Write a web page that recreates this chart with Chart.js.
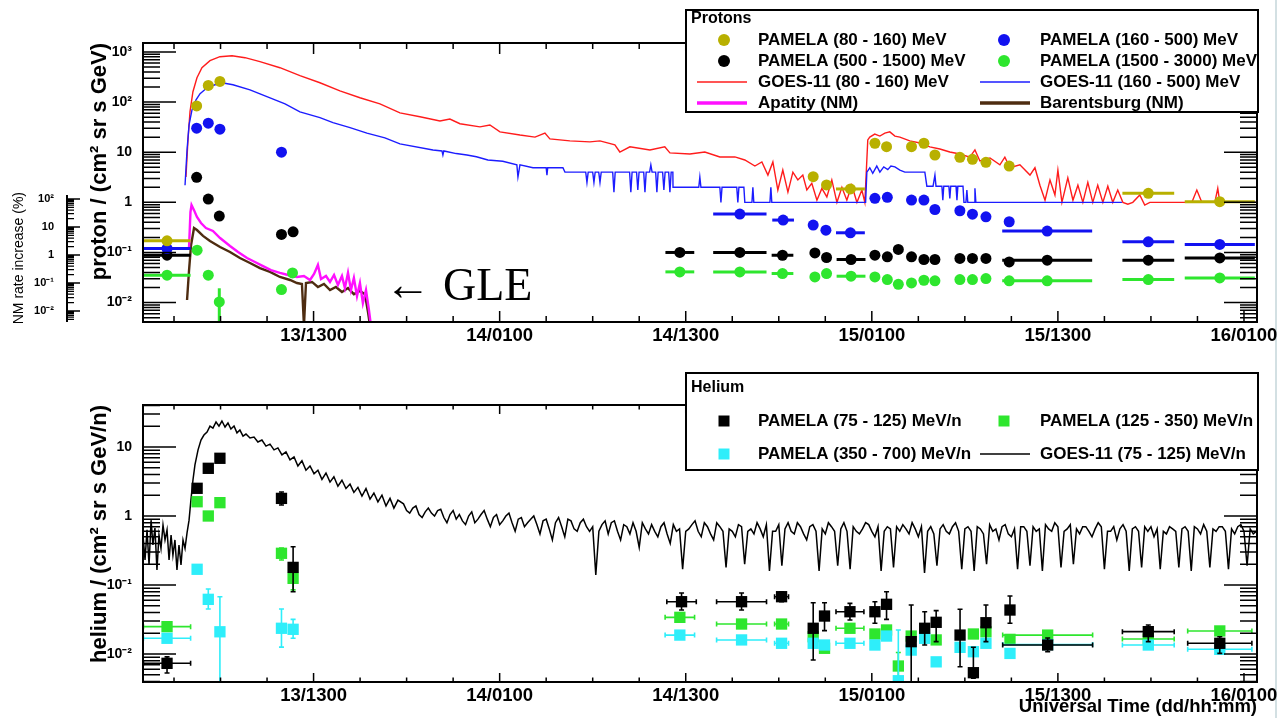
<!DOCTYPE html>
<html>
<head>
<meta charset="utf-8">
<title>PAMELA and GOES-11 — solar particle event of 13 December 2006</title>
<script src="https://cdn.jsdelivr.net/npm/chart.js@4.4.1/dist/chart.umd.min.js"></script>
<style>
  html, body { margin: 0; padding: 0; background: #fff; }
  #page { position: relative; width: 1280px; height: 718px; overflow: hidden; background: #fff; }
  #edge { position: absolute; left: 1275px; top: 0; width: 2px; height: 718px; background: #d3e0e3; }
  canvas { position: absolute; left: 0; }
  #protons { top: 0; }
  #helium { top: 360px; }
</style>
</head>
<body>
<div id="page">
  <div id="edge"></div>
  <canvas id="protons" width="1280" height="360"></canvas>
  <canvas id="helium" width="1280" height="358"></canvas>
</div>
<script>
const FONT = "'Liberation Sans', Arial, Helvetica, sans-serif";
const SERIF = "'Liberation Serif', 'DejaVu Serif', serif";
Chart.defaults.color = '#000';
Chart.defaults.font.family = FONT;

// Time axis: hours counted from 13 Dec 00:00 UT
const timeMin = 2;
const timeMax = 73.84;
const timeLabels = [13, 25, 37, 49, 61, 73];
const protonDecades = [0.01, 0.1, 1, 10, 100, 1000];
const heliumDecades = [0.01, 0.1, 1, 10];
const nmDecades = [0.01, 0.1, 1, 10, 100];

// ---------- Protons: GOES-11 (80 - 160) MeV ----------
const goesP80T = [4.77,4.90,5.03,5.22,5.48,5.80,6.32,6.96,7.74,8.58,9.54,10.83,12.12,13.41,14.70,15.99,17.28,18.57,
  19.86,21.15,21.79,22.44,23.73,24.37,25.02,26.31,27.28,27.92,28.24,29.53,30.82,31.47,32.43,32.75,33.40,34.69,35.65,35.98,
  37.27,38.23,39.20,40.17,40.81,41.46,41.91,42.30,42.62,42.94,43.26,43.59,43.91,44.23,44.55,44.81,45.13,45.46,45.78,46.10,
  46.42,46.75,47.07,47.39,47.71,48.04,48.36,48.55,48.74,48.87,49.19,49.52,49.84,50.16,50.49,50.81,51.45,52.10,52.74,53.39,
  54.03,54.68,55.32,55.65,55.97,56.62,57.26,57.58,57.91,58.55,59.20,59.52,59.84,60.17,60.49,60.81,61.00,61.26,61.64,61.97,
  62.29,62.61,62.93,63.25,63.57,63.90,64.22,64.54,64.86,65.19,65.51,65.83,66.28,66.60,66.93,69.64,69.96,70.28,71.12,71.31,
  71.44,73.84];
const goesP80V = [3.2,17.6,64,161,306,485,670,805,843,769,640,485,336,243,168,122,92,61,
  51,42,46,37,32,35,25.5,22,20,24,18.4,16.8,16.1,16.8,14,10.1,12.8,11.1,12.8,9.7,
  9.2,10.1,8.05,8.05,7.0,5.3,6.4,3.5,6.4,1.76,4.4,1.6,4.0,2.8,3.5,1.76,2.4,1.1,1.9,1.28,
  2.8,1.0,2.0,1.1,2.2,1.0,1.76,1.0,17.6,20,23,21,24,25.5,21,20,16.8,15.3,12.8,11.6,
  10.1,9.2,8.0,11.1,6.7,7.7,5.6,8.0,4.9,5.6,3.5,4.9,2.2,1.1,2.8,1.4,4.4,1.0,3.1,1.1,
  2.2,1.0,2.5,1.0,2.2,1.0,2.1,1.0,1.76,1.0,0.92,1.0,1.4,0.88,1.0,1.0,1.76,1.0,1.0,1.9,
  1.0,1.0];

// ---------- Protons: GOES-11 (160 - 500) MeV ----------
const goesP160T = [4.71,4.84,4.97,5.16,5.42,5.68,6.13,6.64,7.09,7.80,
  8.90,9.99,11.16,12.12,13.41,14.25,15.35,16.44,17.60,18.57,
  20.70,21.28,21.34,21.40,22.20,22.89,23.50,24.24,25.20,26.11,
  26.18,26.31,27.15,28.00,28.05,28.10,29.08,29.21,
  30.55,30.63,30.71,31.00,31.08,31.16,31.39,31.47,31.55,
  32.29,32.37,32.45,33.38,33.46,33.54,33.83,33.91,33.99,
  34.29,34.37,34.45,34.67,34.75,34.83,35.06,35.14,35.22,
  35.51,35.59,35.67,35.90,35.98,36.06,36.17,36.18,
  37.84,37.91,37.98,39.20,39.27,39.34,40.29,40.36,40.43,40.75,40.81,
  41.27,41.33,41.39,42.43,42.49,42.55,
  48.60,48.68,48.87,49.06,49.32,49.52,49.77,50.03,50.23,50.49,50.81,51.13,52.42,52.55,
  52.95,53.00,53.07,53.14,53.52,53.58,53.64,53.97,54.03,54.09,54.43,54.49,54.55,54.88,54.94,
  55.07,55.13,55.19,55.59,55.65,55.71,65.13];
const goesP160V = [2.2,11.1,35,70,111,147,193,222,243,222,
  176,128,92,64,49,39,31,24,19.3,14.7,
  11.1,10.6,8.8,10.6,9.4,8.8,8.1,7.0,6.6,5.6,
  3.2,5.6,4.9,4.9,3.5,4.9,4.9,4.0,
  4.0,2.5,4.0,4.0,2.5,4.0,4.0,2.5,4.0,
  4.0,1.6,4.0,4.0,1.6,4.0,4.0,1.76,4.0,
  4.0,1.6,4.0,4.0,5.6,4.0,4.0,1.6,4.0,
  4.0,1.76,4.0,4.0,1.6,4.0,4.0,2.0,
  2.0,3.2,2.0,2.0,1.0,2.0,2.0,1.0,2.0,2.0,1.0,
  1.0,2.0,1.0,1.0,2.0,1.0,
  1.0,4.0,4.9,3.8,5.3,4.0,5.1,4.5,5.3,5.1,4.4,4.0,4.0,2.1,
  2.1,2.1,3.5,2.1,2.1,1.1,2.1,2.1,1.2,2.1,2.1,1.1,2.1,2.1,1.0,
  1.0,1.76,1.0,1.0,1.9,1.0,1.0];

// ---------- Neutron monitors: rate increase (%) ----------
const apatityT = [4.97,5.06,5.13,5.29,5.48,5.74,6.06,6.51,6.97,7.61,8.13,8.71,9.22,9.74,10.25,10.83,11.35,11.93,12.38,12.77,
  13.03,13.28,13.48,13.80,14.06,14.32,14.57,14.83,15.02,15.22,15.41,15.60,15.80,15.99,16.18,16.38,16.57,16.70];
const apatityV = [1.93,34,61,40,22.8,13.9,9.2,7.2,4.05,2.1,1.28,0.78,0.56,0.40,0.29,0.23,0.193,0.164,0.178,0.128,
  0.21,0.44,0.139,0.178,0.109,0.193,0.085,0.178,0.066,0.23,0.056,0.151,0.034,0.1,0.019,0.056,0.0109,0.003];
const barentsT = [4.84,4.97,5.10,5.29,5.48,5.87,6.32,6.97,7.61,8.25,8.90,9.54,10.19,10.83,11.48,11.93,12.25,12.38,12.51,12.90,
  13.28,13.67,14.06,14.44,14.83,15.22,15.60,15.99,16.31,16.51,16.64];
const barentsV = [0.0247,0.29,2.28,9.2,7.8,4.8,3.16,1.93,1.28,0.78,0.52,0.34,0.25,0.164,0.128,0.1,0.092,0.003,0.1,0.109,
  0.072,0.092,0.056,0.072,0.048,0.066,0.040,0.052,0.040,0.0092,0.003];

// ---------- PAMELA protons (flux, half-width of time bin in hours) ----------
const pamP80T = [3.55,5.46,6.21,6.96,45.22,46.08,47.62,49.20,49.95,51.56,52.36,53.07,54.68,55.49,56.36,57.86,66.83,71.44];
const pamP80V = [0.171,84,215,258,3.25,2.22,1.85,15.1,12.9,12.9,15.1,8.8,7.9,7.2,6.3,5.3,1.51,1.03];
const pamP80Dx = [1.52,0,0,0,0,0,0.93,0,0,0,0,0,0,0,0,0,1.67,2.26];

const pamP160T = [3.55,5.46,6.21,6.96,10.93,40.49,43.28,45.22,46.04,47.62,49.20,50.00,51.56,52.36,53.07,54.68,55.49,56.36,57.86,60.31,66.83,71.44];
const pamP160V = [0.120,30.2,38,28.8,10.0,0.583,0.443,0.352,0.279,0.247,1.20,1.26,1.11,1.11,0.72,0.68,0.58,0.515,0.41,0.267,0.163,0.145];
const pamP160Dx = [1.52,0,0,0,0,1.72,0.7,0,0,0.93,0,0,0,0,0,0,0,0,0,2.9,1.67,2.26];

const pamP500T = [3.55,5.46,6.21,6.92,10.93,11.68,36.62,40.49,43.24,45.33,46.08,47.66,49.20,50.00,50.71,51.56,52.36,53.07,54.68,55.49,56.36,57.86,60.31,66.83,71.44];
const pamP500V = [0.0883,3.16,1.16,0.532,0.229,0.258,0.1,0.1,0.088,0.098,0.0794,0.0724,0.0883,0.0817,0.115,0.0817,0.0724,0.0724,0.0759,0.0759,0.0759,0.0649,0.0702,0.0702,0.078];
const pamP500Dx = [1.52,0,0,0,0,0,0.93,1.72,0.7,0,0,0.93,0,0,0,0,0,0,0,0,0,0,2.9,1.67,2.26];

const pamP1500T = [3.55,5.49,6.21,6.92,10.93,11.64,36.62,40.49,43.24,45.33,46.08,47.66,49.20,50.00,50.71,51.56,52.36,53.07,54.68,55.49,56.36,57.86,60.31,66.83,71.44];
const pamP1500V = [0.0352,0.111,0.0352,0.0103,0.0182,0.0391,0.041,0.041,0.038,0.0325,0.038,0.0336,0.0325,0.0288,0.0232,0.0247,0.0279,0.0272,0.0288,0.0288,0.0302,0.0272,0.0272,0.0288,0.031];
const pamP1500Dx = [1.52,0,0,0,0,0,0.93,1.72,0.7,0,0,0.93,0,0,0,0,0,0,0,0,0,0,2.9,1.67,2.26];
const pamP1500Lo = [null,null,null,0.002,null,null,null,null,null,null,null,null,null,null,null,null,null,null,null,null,null,null,null,null,null];
const pamP1500Hi = [null,null,null,0.0193,null,null,null,null,null,null,null,null,null,null,null,null,null,null,null,null,null,null,null,null,null];

// ---------- Helium: GOES-11 (75 - 125) MeV/n ----------
const goesHeT = [2.00,2.13,2.26,2.39,2.52,2.64,2.77,2.90,3.03,3.16,3.29,3.42,3.55,3.68,3.81,3.93,4.06,4.19,4.32,4.45,4.58,4.71,4.84,4.97,
  5.09,5.22,5.35,5.55,5.74,5.93,6.13,6.32,6.51,6.71,6.90,7.09,7.29,7.48,7.67,7.87,8.06,8.25,8.45,8.64,
  8.90,9.16,9.41,9.67,9.93,10.19,10.45,10.70,10.96,11.22,11.48,11.74,11.99,12.25,12.51,12.77,13.03,13.28,13.54,13.80,
  14.06,14.31,14.57,14.83,15.09,15.35,15.60,15.86,16.12,16.38,16.64,16.89,17.15,17.41,17.67,17.93,18.18,18.44,
  18.8,19.0,19.2,19.4,19.6,19.8,20.0,20.2,20.4,20.6,20.8,21.0,21.2,21.4,21.6,21.8,22.0,22.2,22.4,22.6,
  22.8,23.0,23.2,23.4,23.6,23.8,24.0,24.2,24.4,24.6,24.8,25.0,25.2,25.4,25.6,25.8,26.0,26.2,26.4,26.6,
  26.8,27.0,27.2,27.4,27.6,27.8,28.0,28.2,28.4,28.6,28.8,29.0,29.2,29.4,29.6,29.8,30.0,30.2,30.4,30.6,
  30.8,31.0,31.2,31.4,31.6,31.8,32.0,32.2,32.4,32.6,32.8,33.0,33.2,33.4,33.6,33.8,34.0,34.2,34.4,34.6,
  34.8,35.0,35.2,35.4,35.6,35.8,36.0,36.2,36.4,36.6,36.8,37.0,37.2,37.4,37.6,37.8,38.0,38.2,38.4,38.6,
  38.8,39.0,39.2,39.4,39.6,39.8,40.0,40.2,40.4,40.6,40.8,41.0,41.2,41.4,41.6,41.8,42.0,42.2,42.4,42.6,
  42.8,43.0,43.2,43.4,43.6,43.8,44.0,44.2,44.4,44.6,44.8,45.0,45.2,45.4,45.6,45.8,46.0,46.2,46.4,46.6,
  46.8,47.0,47.2,47.4,47.6,47.8,48.0,48.2,48.4,48.6,48.8,49.0,49.2,49.4,49.6,49.8,50.0,50.2,50.4,50.6,
  50.8,51.0,51.2,51.4,51.6,51.8,52.0,52.2,52.4,52.6,52.8,53.0,53.2,53.4,53.6,53.8,54.0,54.2,54.4,54.6,
  54.8,55.0,55.2,55.4,55.6,55.8,56.0,56.2,56.4,56.6,56.8,57.0,57.2,57.4,57.6,57.8,58.0,58.2,58.4,58.6,
  58.8,59.0,59.2,59.4,59.6,59.8,60.0,60.2,60.4,60.6,60.8,61.0,61.2,61.4,61.6,61.8,62.0,62.2,62.4,62.6,
  62.8,63.0,63.2,63.4,63.6,63.8,64.0,64.2,64.4,64.6,64.8,65.0,65.2,65.4,65.6,65.8,66.0,66.2,66.4,66.6,
  66.8,67.0,67.2,67.4,67.6,67.8,68.0,68.2,68.4,68.6,68.8,69.0,69.2,69.4,69.6,69.8,70.0,70.2,70.4,70.6,
  70.8,71.0,71.2,71.4,71.6,71.8,72.0,72.2,72.4,72.6,72.8,73.0,73.2,73.4,73.6,73.8];
const goesHeV = [0.53,0.23,0.63,0.195,0.87,0.38,0.67,0.165,0.53,0.34,0.74,0.45,0.63,0.23,0.53,0.27,0.45,0.165,0.38,0.195,0.45,0.34,0.57,0.87,
  1.7,3.3,5.5,9.1,12.6,14.9,16.5,20.1,18.8,23,20.1,23.8,19.5,22.3,18.2,20.1,16,17.6,14.4,15.4,
  13.5,13.9,11.8,12.6,10.3,11,9.1,9.7,7.7,8.5,6.5,7.2,5.3,6.3,4.6,5.3,4.1,4.6,3.4,4.2,
  3.1,3.7,2.7,3.3,2.5,2.9,2.2,2.6,1.95,2.5,1.76,2.15,1.6,2.0,1.4,1.8,1.3,1.7,
  1.5,1.2,1.1,1.3,1.4,1.05,0.95,1.15,1.3,1.1,1.0,1.2,1.25,0.95,0.8,1.05,1.2,0.9,1.05,0.85,
  0.75,1.0,1.15,0.8,0.9,1.05,1.2,0.9,0.7,0.95,1.05,0.75,0.85,1.0,1.1,0.8,0.6,0.9,0.95,0.7,
  0.8,0.9,1.0,0.75,0.55,0.85,0.9,0.65,0.45,0.8,0.95,0.7,0.5,0.9,0.85,0.65,0.6,0.8,0.9,0.7,
  0.6,0.7,0.14,0.6,0.75,0.85,0.55,0.8,0.85,0.6,0.45,0.75,0.7,0.55,0.8,0.6,0.35,0.8,0.65,0.55,
  0.75,0.6,0.5,0.7,0.8,0.55,0.4,0.75,0.6,0.65,0.17,0.6,0.65,0.75,0.85,0.6,0.5,0.8,0.7,0.55,
  0.45,0.8,0.7,0.6,0.18,0.65,0.6,0.5,0.75,0.7,0.2,0.6,0.65,0.55,0.8,0.65,0.5,0.75,0.16,0.6,
  0.6,0.75,0.19,0.65,0.8,0.6,0.55,0.8,0.7,0.55,0.45,0.7,0.75,0.6,0.16,0.65,0.55,0.8,0.7,0.6,
  0.19,0.65,0.8,0.6,0.17,0.7,0.6,0.55,0.65,0.8,0.75,0.6,0.5,0.7,0.16,0.6,0.7,0.65,0.18,0.7,
  0.6,0.75,0.65,0.55,0.8,0.65,0.5,0.7,0.15,0.6,0.7,0.55,0.19,0.65,0.75,0.6,0.55,0.7,0.8,0.6,
  0.17,0.65,0.7,0.6,0.16,0.7,0.65,0.55,0.2,0.75,0.6,0.65,0.45,0.7,0.75,0.55,0.5,0.65,0.17,0.7,
  0.7,0.6,0.19,0.7,0.6,0.65,0.16,0.75,0.65,0.6,0.8,0.7,0.18,0.6,0.65,0.75,0.2,0.65,0.55,0.7,
  0.7,0.6,0.5,0.65,0.8,0.7,0.17,0.6,0.6,0.7,0.45,0.65,0.75,0.6,0.16,0.65,0.7,0.6,0.18,0.7,
  0.6,0.7,0.5,0.65,0.17,0.6,0.55,0.7,0.65,0.6,0.18,0.65,0.7,0.6,0.16,0.7,0.65,0.55,0.75,0.6,
  0.18,0.65,0.6,0.7,0.7,0.6,0.17,0.65,0.55,0.7,0.75,0.6,0.19,0.65,0.55,0.6];

// ---------- PAMELA helium (flux, time half-width, flux error range) ----------
const pamHe75T = [3.55,5.49,6.21,6.96,10.93,11.68,36.73,40.60,43.18,45.22,45.95,47.59,49.20,49.95,51.54,52.41,53.15,54.69,55.55,56.36,57.91,60.34,66.83,71.44];
const pamHe75V = [0.00733,2.52,4.91,6.86,1.80,0.18,0.0573,0.0573,0.0677,0.0236,0.0355,0.041,0.041,0.0525,0.0151,0.0236,0.0288,0.0188,0.00536,0.0284,0.0434,0.0135,0.0211,0.0143];
const pamHe75Dx = [1.52,0,0,0,0,0,0.95,1.61,0.45,0,0,0.9,0,0,0,0,0,0,0,0,0,2.9,1.67,2.07];
const pamHe75Lo = [0.0053,null,null,null,1.44,0.08,0.0434,0.0434,0.0573,0.0082,0.0218,0.0311,0.0279,0.0318,0.003,0.0135,0.0151,0.00655,0.00445,0.0151,0.0279,0.0108,0.0151,0.0102];
const pamHe75Hi = [0.0091,null,null,null,2.23,0.359,0.0766,0.0766,0.08,0.0554,0.0554,0.0542,0.0573,0.08,0.0513,0.041,0.0425,0.0445,0.0125,0.0513,0.0693,0.0171,0.0263,0.0178];

const pamHe125T = [3.55,5.49,6.21,6.96,10.93,11.68,36.62,40.60,43.18,45.22,45.95,47.59,49.20,49.95,50.71,51.54,53.15,55.55,56.36,57.91,60.34,66.83,71.44];
const pamHe125V = [0.0249,1.61,1.0,1.56,0.288,0.125,0.034,0.0272,0.0272,0.0178,0.0121,0.0236,0.0195,0.0223,0.0067,0.0182,0.016,0.0195,0.021,0.0163,0.0188,0.0165,0.0216];
const pamHe125Dx = [1.52,0,0,0,0,0,0.95,1.61,0.45,0,0,0.9,0,0,0,0,0,0,0,0,2.9,1.67,2.07];
const pamHe125Lo = [null,null,null,null,0.23,0.085,null,null,null,null,null,null,null,null,0.0045,null,null,null,null,null,null,null,null];
const pamHe125Hi = [null,null,null,null,0.343,0.165,null,null,null,null,null,null,null,null,0.0105,null,null,null,null,null,null,null,null];

const pamHe350T = [3.55,5.49,6.21,6.96,10.93,11.68,36.62,40.60,43.18,45.22,45.95,47.59,49.20,49.95,50.71,51.54,52.41,53.15,54.69,55.55,56.36,57.91,60.34,66.83,71.44];
const pamHe350V = [0.0169,0.169,0.062,0.021,0.0236,0.0228,0.0188,0.016,0.0143,0.0143,0.0135,0.0143,0.0135,0.0182,0.0041,0.0114,0.0169,0.0077,0.0125,0.0108,0.0143,0.0102,0.0137,0.0135,0.0117];
const pamHe350Dx = [1.52,0,0,0,0,0,0.95,1.61,0.45,0,0,0.9,0,0,0,0,0,0,0,0,0,0,2.9,1.67,2.07];
const pamHe350Lo = [null,null,0.0449,0.002,0.0126,0.0169,null,null,null,null,null,null,null,null,0.002,null,null,null,null,null,null,null,null,null,null];
const pamHe350Hi = [null,null,0.0875,0.0677,0.0449,0.0318,null,null,null,null,null,null,null,null,0.0223,null,null,null,null,null,null,null,null,null,null];

const C = {
  olive: '#b8b000', blue: '#1212f0', black: '#000000', green: '#2ee62e',
  red: '#ff1c1c', goesBlue: '#1c1cff', magenta: '#ff10ff', brown: '#4e2c10', cyan: '#2eeefa'
};

const pts = (t, v) => t.map((x, i) => ({ x, y: v[i] }));
const SUP = { '-': '\u207B', '0': '\u2070', '1': '\u00B9', '2': '\u00B2', '3': '\u00B3' };
function expLabel(v) {
  const e = Math.round(Math.log10(v));
  if (e === 0) return '1';
  if (e === 1) return '10';
  return '10' + String(e).split('').map(c => SUP[c]).join('');
}
const timeLabel = h => `${13 + Math.floor(h / 24)}/${String(h % 24).padStart(2, '0')}00`;

// ---------- error bars, drawn just before each dataset ----------
function drawErrorBars(chart, index) {
  const ds = chart.data.datasets[index];
  if (!ds.errX && !ds.errLo) return;
  const meta = chart.getDatasetMeta(index);
  const xs = chart.scales[meta.xAxisID], ys = chart.scales[meta.yAxisID];
  const a = chart.chartArea, ctx = chart.ctx;
  const cap = ds.errCap || 0;
  ctx.save();
  ctx.beginPath();
  ctx.rect(a.left, a.top, a.right - a.left, a.bottom - a.top);
  ctx.clip();
  ctx.strokeStyle = ds.borderColor;
  ctx.lineWidth = ds.errWidth || 1.5;
  ds.data.forEach((p, i) => {
    const px = xs.getPixelForValue(p.x), py = ys.getPixelForValue(p.y);
    ctx.beginPath();
    const dx = ds.errX ? ds.errX[i] : 0;
    if (dx) {
      const x0 = xs.getPixelForValue(p.x - dx), x1 = xs.getPixelForValue(p.x + dx);
      ctx.moveTo(x0, py); ctx.lineTo(x1, py);
      if (cap) {
        ctx.moveTo(x0, py - cap); ctx.lineTo(x0, py + cap);
        ctx.moveTo(x1, py - cap); ctx.lineTo(x1, py + cap);
      }
    }
    const lo = ds.errLo ? ds.errLo[i] : null, hi = ds.errHi ? ds.errHi[i] : null;
    if (lo != null && hi != null) {
      const y0 = ys.getPixelForValue(lo), y1 = ys.getPixelForValue(hi);
      ctx.moveTo(px, y0); ctx.lineTo(px, y1);
      if (cap) {
        ctx.moveTo(px - cap, y0); ctx.lineTo(px + cap, y0);
        ctx.moveTo(px - cap, y1); ctx.lineTo(px + cap, y1);
      }
    }
    ctx.stroke();
  });
  ctx.restore();
}

// ---------- secondary axis for the neutron monitors ----------
function drawNmAxis(chart, cfg) {
  const ctx = chart.ctx, s = chart.scales.yNM, a = chart.chartArea;
  ctx.strokeStyle = '#000';
  ctx.lineWidth = 2;
  ctx.beginPath();
  ctx.moveTo(cfg.x, cfg.top); ctx.lineTo(cfg.x, a.bottom);
  ctx.stroke();
  ctx.lineWidth = 1.3;
  ctx.beginPath();
  for (let d = -3; d <= 2; d++) for (let k = 1; k <= 9; k++) {
    const py = s.getPixelForValue(k * Math.pow(10, d));
    if (py < cfg.top - 0.5 || py > a.bottom) continue;
    const len = k === 1 ? 13 : 7;
    ctx.moveTo(cfg.x, py); ctx.lineTo(cfg.x + len, py);
  }
  ctx.stroke();
  ctx.fillStyle = '#000';
  ctx.font = `bold 11px ${FONT}`;
  ctx.textAlign = 'right';
  ctx.textBaseline = 'middle';
  nmDecades.forEach(v => ctx.fillText(expLabel(v), cfg.labelX, s.getPixelForValue(v)));
  ctx.save();
  ctx.translate(cfg.titleX, cfg.titleTop);
  ctx.rotate(-Math.PI / 2);
  ctx.font = `14px ${FONT}`;
  ctx.textAlign = 'right';
  ctx.fillText(cfg.title, 0, 0);
  ctx.restore();
}

// ---------- boxed legend in the upper right corner ----------
function drawLegend(chart, L) {
  const ctx = chart.ctx;
  ctx.fillStyle = '#fff';
  ctx.fillRect(L.x0, L.y0, L.x1 - L.x0, L.y1 - L.y0);
  ctx.strokeStyle = '#000';
  ctx.lineWidth = 2;
  ctx.strokeRect(L.x0, L.y0, L.x1 - L.x0, L.y1 - L.y0);
  ctx.fillStyle = '#000';
  ctx.textAlign = 'left';
  ctx.textBaseline = 'middle';
  ctx.font = `bold ${L.titleSize}px ${FONT}`;
  ctx.fillText(L.title, L.titleX, L.titleY);
  ctx.font = `bold ${L.textSize}px ${FONT}`;
  chart.data.datasets.forEach(ds => {
    if (!ds.legendSlot) return;
    const col = L.cols[ds.legendSlot[0]], cy = L.rows[ds.legendSlot[1]];
    if (ds.showLine) {
      ctx.strokeStyle = ds.borderColor;
      ctx.lineWidth = ds.legendWidth || ds.borderWidth;
      ctx.beginPath();
      ctx.moveTo(col.line0, cy); ctx.lineTo(col.line1, cy);
      ctx.stroke();
    } else {
      ctx.fillStyle = ds.backgroundColor;
      ctx.beginPath();
      if (ds.pointStyle === 'rect') ctx.rect(col.marker - 5.5, cy - 5.5, 11, 11);
      else ctx.arc(col.marker, cy, 6, 0, Math.PI * 2);
      ctx.fill();
    }
    ctx.fillStyle = '#000';
    ctx.fillText(ds.label, col.text, cy);
  });
}

function drawNote(ctx, n) {
  ctx.fillStyle = '#000';
  ctx.textAlign = 'left';
  ctx.textBaseline = 'alphabetic';
  ctx.font = `${n.size}px ${SERIF}`;
  ctx.fillText('\u2190', n.arrowX, n.baseline);
  ctx.fillText(n.text, n.textX, n.baseline);
}

// ROOT-style frame: ticks inside on all four sides, then overlays
function makeFrame(cfg) {
  return {
    id: 'rootFrame',
    beforeDatasetDraw(chart, args) { drawErrorBars(chart, args.index); },
    afterDraw(chart) {
      const ctx = chart.ctx, a = chart.chartArea, xs = chart.scales.x, ys = chart.scales.y;
      ctx.save();
      ctx.strokeStyle = '#000';
      ctx.lineWidth = 1.5;
      ctx.beginPath();
      const dLo = Math.floor(Math.log10(ys.min)), dHi = Math.ceil(Math.log10(ys.max));
      for (let d = dLo; d <= dHi; d++) for (let k = 1; k <= 9; k++) {
        const v = k * Math.pow(10, d);
        if (v < ys.min || v > ys.max) continue;
        const py = ys.getPixelForValue(v), len = k === 1 ? cfg.yMajor : cfg.yMinor;
        ctx.moveTo(a.left, py); ctx.lineTo(a.left + len, py);
        ctx.moveTo(a.right, py); ctx.lineTo(a.right - len, py);
      }
      for (let h = Math.ceil(xs.min); h <= xs.max; h++) {
        if ((h - 1) % 3 !== 0) continue;
        const px = xs.getPixelForValue(h), len = (h - 1) % 12 === 0 ? cfg.xMajor : cfg.xMinor;
        ctx.moveTo(px, a.bottom); ctx.lineTo(px, a.bottom - len);
        ctx.moveTo(px, a.top); ctx.lineTo(px, a.top + len);
      }
      ctx.stroke();
      ctx.lineWidth = 2;
      ctx.strokeRect(a.left, a.top, a.right - a.left, a.bottom - a.top);
      if (cfg.nmAxis) drawNmAxis(chart, cfg.nmAxis);
      if (cfg.legend) drawLegend(chart, cfg.legend);
      if (cfg.note) drawNote(ctx, cfg.note);
      ctx.restore();
    }
  };
}

function xAxis(height, title) {
  return {
    type: 'linear', position: 'bottom', min: timeMin, max: timeMax,
    grid: { display: false, drawTicks: false }, border: { display: false },
    afterBuildTicks: s => { s.ticks = timeLabels.map(v => ({ value: v })); },
    afterFit: s => { s.height = height; s.paddingLeft = 0; s.paddingRight = 0; },
    ticks: { autoSkip: false, maxRotation: 0, padding: 3, font: { size: 18.5, weight: 'bold' }, callback: v => timeLabel(v) },
    title: { display: !!title, text: title || '', align: 'end', font: { size: 18.5, weight: 'bold' }, padding: { top: 0, bottom: 0 } }
  };
}

function yAxis(min, max, decades, title) {
  return {
    type: 'logarithmic', position: 'left', min, max,
    grid: { display: false, drawTicks: false }, border: { display: false },
    afterBuildTicks: s => { s.ticks = decades.map(v => ({ value: v })); },
    afterFit: s => { s.width = 143; s.paddingTop = 0; s.paddingBottom = 0; },
    ticks: { padding: 11, font: { size: 14, weight: 'bold' }, callback: v => expLabel(v) },
    title: { display: true, text: title, align: 'end', font: { size: 22, weight: 'bold' }, padding: { top: 86.5, bottom: 0 } }
  };
}

const lineSet = (label, t, v, color, width, order, slot, extra) => Object.assign({
  label, data: pts(t, v), showLine: true, borderColor: color, backgroundColor: color,
  borderWidth: width, pointRadius: 0, tension: 0, fill: false, order, legendSlot: slot
}, extra || {});
const pointSet = (label, t, v, color, style, radius, order, slot, extra) => Object.assign({
  label, data: pts(t, v), showLine: false, pointStyle: style, pointRadius: radius,
  backgroundColor: color, borderColor: color, borderWidth: 0, order, legendSlot: slot
}, extra || {});

const legendCols = [
  { marker: 724, line0: 697, line1: 747, text: 758 },
  { marker: 1004, line0: 980, line1: 1030, text: 1040 }
];
const common = { responsive: false, animation: false, events: [], plugins: { legend: { display: false }, tooltip: { enabled: false } } };

// ---------- upper panel: protons ----------
new Chart(document.getElementById('protons'), {
  type: 'scatter',
  data: {
    datasets: [
      lineSet('GOES-11 (80 - 160) MeV', goesP80T, goesP80V, C.red, 1.4, 10, [0, 2]),
      lineSet('GOES-11 (160 - 500) MeV', goesP160T, goesP160V, C.goesBlue, 1.4, 9, [1, 2]),
      lineSet('Barentsburg (NM)', barentsT, barentsV, C.brown, 2.4, 8, [1, 3], { yAxisID: 'yNM', legendWidth: 3.5 }),
      lineSet('Apatity (NM)', apatityT, apatityV, C.magenta, 2.4, 7, [0, 3], { yAxisID: 'yNM', legendWidth: 3.5 }),
      pointSet('PAMELA (1500 - 3000) MeV', pamP1500T, pamP1500V, C.green, 'circle', 5.5, 4, [1, 1],
        { errX: pamP1500Dx, errLo: pamP1500Lo, errHi: pamP1500Hi, errWidth: 3 }),
      pointSet('PAMELA (500 - 1500) MeV', pamP500T, pamP500V, C.black, 'circle', 5.5, 3, [0, 1], { errX: pamP500Dx, errWidth: 3 }),
      pointSet('PAMELA (160 - 500) MeV', pamP160T, pamP160V, C.blue, 'circle', 5.5, 2, [1, 0], { errX: pamP160Dx, errWidth: 3 }),
      pointSet('PAMELA (80 - 160) MeV', pamP80T, pamP80V, C.olive, 'circle', 5.5, 1, [0, 0], { errX: pamP80Dx, errWidth: 3 })
    ]
  },
  options: Object.assign({}, common, {
    layout: { padding: { top: 43, right: 23, left: 0, bottom: 0 } },
    scales: {
      x: xAxis(38, null),
      y: yAxis(0.0041, 1510, protonDecades, 'proton / (cm\u00B2 sr s GeV)'),
      yNM: { type: 'logarithmic', position: 'left', display: false, min: 0.00405, max: 3.72e7 }
    }
  }),
  plugins: [makeFrame({
    yMajor: 33, yMinor: 17, xMajor: 11, xMinor: 6,
    nmAxis: { x: 67, top: 195, labelX: 54, titleX: 19, titleTop: 192, title: 'NM rate increase (%)' },
    legend: { x0: 686, x1: 1258, y0: 10, y1: 112, title: 'Protons', titleX: 691, titleY: 19, titleSize: 16, textSize: 17,
      rows: [40, 61, 82, 103], cols: legendCols },
    note: { arrowX: 385, textX: 443, baseline: 300, size: 46, text: 'GLE' }
  })]
});

// ---------- lower panel: helium ----------
new Chart(document.getElementById('helium'), {
  type: 'scatter',
  data: {
    datasets: [
      lineSet('GOES-11 (75 - 125) MeV/n', goesHeT, goesHeV, C.black, 1.5, 10, [1, 1]),
      pointSet('PAMELA (125 - 350) MeV/n', pamHe125T, pamHe125V, C.green, 'rect', 8, 3, [1, 0],
        { errX: pamHe125Dx, errLo: pamHe125Lo, errHi: pamHe125Hi, errWidth: 1.6, errCap: 2.5 }),
      pointSet('PAMELA (350 - 700) MeV/n', pamHe350T, pamHe350V, C.cyan, 'rect', 8, 2, [0, 1],
        { errX: pamHe350Dx, errLo: pamHe350Lo, errHi: pamHe350Hi, errWidth: 1.6, errCap: 2.5 }),
      pointSet('PAMELA (75 - 125) MeV/n', pamHe75T, pamHe75V, C.black, 'rect', 8, 1, [0, 0],
        { errX: pamHe75Dx, errLo: pamHe75Lo, errHi: pamHe75Hi, errWidth: 1.6, errCap: 2.5 })
    ]
  },
  options: Object.assign({}, common, {
    layout: { padding: { top: 45, right: 23, left: 0, bottom: 0 } },
    scales: {
      x: xAxis(36, 'Universal Time (dd/hh:mm)'),
      y: yAxis(0.00393, 40.6, heliumDecades, 'helium / (cm\u00B2 sr s GeV/n)')
    }
  }),
  plugins: [makeFrame({
    yMajor: 33, yMinor: 17, xMajor: 9, xMinor: 4.5,
    legend: { x0: 686, x1: 1258, y0: 13, y1: 110, title: 'Helium', titleX: 691, titleY: 28, titleSize: 16, textSize: 17,
      rows: [61, 94], cols: legendCols }
  })]
});
</script>
</body>
</html>
